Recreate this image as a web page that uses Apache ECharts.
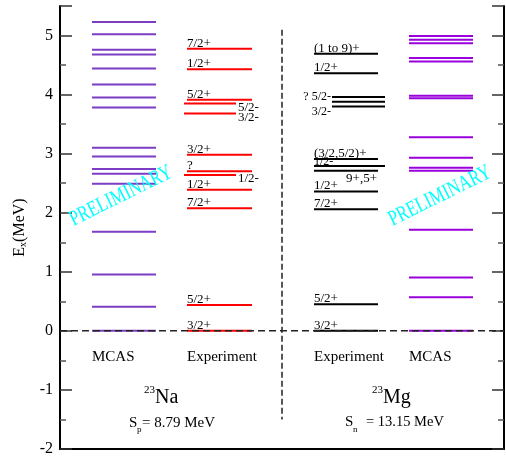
<!DOCTYPE html>
<html><head><meta charset="utf-8">
<script src="https://cdn.jsdelivr.net/npm/echarts@6/dist/echarts.min.js"></script>
<style>html,body{margin:0;padding:0;background:#fff}#c{width:506px;height:457px}</style>
</head><body><div id="c"></div>
<script>
// ---- data (MeV) ----
const mcasNa = [0, 0.41, 0.955, 1.68, 2.49, 2.66, 2.74, 2.95, 3.10, 3.78, 3.95, 4.17, 4.44, 4.68, 4.76, 5.02, 5.23];
const expNaE = [0, 0.440, 2.076, 2.391, 2.640, 2.704, 2.982, 3.678, 3.848, 3.914, 4.430, 4.775];
const expNaJ = ['3/2+', '5/2+', '7/2+', '1/2+', '1/2-', '?', '3/2+', '3/2-', '5/2-', '5/2+', '1/2+', '7/2+'];
const expNaK = ['a', 'a', 'a', 'a', 's', 'a', 'a', 's', 's', 'a', 'a', 'a'];
const expMgE = [0, 0.45, 2.06, 2.36, 2.71, 2.79, 2.91, 3.80, 3.88, 3.96, 4.36, 4.69];
const expMgJ = ['3/2+', '5/2+', '7/2+', '1/2+', '9+,5+', '1/2-', '(3/2,5/2)+', '3/2-', '? 5/2-', '', '1/2+', '(1 to 9)+'];
const expMgK = ['a', 'a', 'a', 'a', 'b', 'L', 'a', 'cu', 'ca', 'c', 'a', 'a'];
const mcasMg = [0, 0.57, 0.905, 1.71, 2.71, 2.76, 2.93, 3.28, 3.94, 3.98, 4.56, 4.62, 4.87, 4.93, 4.99];
const yTicks = [-2, -1, 0, 1, 2, 3, 4, 5];

// ---- layout (x axis units) ----
const SPAN = {
  mL: [32, 96], a: [127, 192], s: [124, 176],
  ma: [254, 318], mL2: [254, 325], mc: [272, 325], mR: [349, 413]
};
const FONT = '"Liberation Serif", "Times New Roman", serif';

function levelSeries(energies, labels, kinds, spanFn, color) {
  return {
    type: 'custom',
    coordinateSystem: 'cartesian2d',
    encode: { x: [0, 2], y: 1 },
    data: energies.map((e, i) => { const sp = spanFn(kinds ? kinds[i] : null); return [sp[0], e, sp[1]]; }),
    z: 3,
    renderItem: function (params, api) {
      const i = params.dataIndex;
      const e = api.value(1);
      const p0 = api.coord([api.value(0), e]);
      const p1 = api.coord([api.value(2), e]);
      const children = [{
        type: 'line',
        shape: { x1: p0[0], y1: p0[1], x2: p1[0], y2: p1[1] },
        style: { stroke: color, lineWidth: 2 }
      }];
      const lab = labels ? labels[i] : '';
      if (lab) {
        const k = kinds[i];
        let st = { text: lab, fill: '#000', fontSize: 13, fontFamily: FONT };
        if (k === 'a') { st.x = p0[0]; st.y = p0[1] + 1; st.align = 'left'; st.verticalAlign = 'bottom'; }
        else if (k === 'L') { st.x = p0[0]; st.y = p0[1] + 2; st.align = 'left'; st.verticalAlign = 'bottom'; st.fontSize = 12; }
        else if (k === 's') { st.x = p1[0] + 2; st.y = p1[1] + 4; st.align = 'left'; st.verticalAlign = 'middle'; }
        else if (k === 'b') { st.x = p1[0] - 1; st.y = p1[1] + 1; st.align = 'right'; st.verticalAlign = 'top'; }
        else if (k === 'cu') { st.x = p0[0] - 1; st.y = p0[1] - 1; st.align = 'right'; st.verticalAlign = 'top'; st.fontSize = 12; }
        else if (k === 'ca') { st.x = p0[0] - 1; st.y = p0[1] + 1; st.align = 'right'; st.verticalAlign = 'bottom'; st.fontSize = 12; }
        children.push({ type: 'text', style: st });
      }
      return { type: 'group', children: children };
    }
  };
}

const chart = echarts.init(document.getElementById('c'), null, { renderer: 'canvas' });
const axisCommon = {
  type: 'value', min: -2, max: 5.5, interval: 1,
  splitLine: { show: false },
  axisLine: { show: true, lineStyle: { color: '#000', width: 2 } },
  axisTick: { show: true, inside: true, length: 12, lineStyle: { color: '#333', width: 1.5 } },
  minorTick: { show: true, splitNumber: 2, length: 6, lineStyle: { color: '#555', width: 1.5 } }
};
chart.setOption({
  animation: false,
  backgroundColor: '#fff',
  grid: { left: 60, right: 2, top: 6, bottom: 7 },
  xAxis: {
    type: 'value', min: 0, max: 444,
    axisLine: { show: true, onZero: false, lineStyle: { color: '#000', width: 2 } },
    axisTick: { show: false }, axisLabel: { show: false }, splitLine: { show: false }
  },
  yAxis: [
    Object.assign({}, axisCommon, {
      position: 'left',
      name: '{a|E}{s|x}{a|(MeV)}',
      nameLocation: 'middle', nameGap: 32, nameRotate: 90,
      nameTextStyle: { rich: {
        a: { fontSize: 16, fontFamily: FONT, color: '#000' },
        s: { fontSize: 10, fontFamily: FONT, color: '#000', verticalAlign: 'bottom', padding: [6, 0, 0, 0] }
      } },
      axisLabel: { show: true, margin: 7, fontSize: 16, fontFamily: FONT, color: '#000', showMaxLabel: false,
        formatter: v => (yTicks.indexOf(v) >= 0 ? String(v) : '') }
    }),
    Object.assign({}, axisCommon, { position: 'right', axisLabel: { show: false } })
  ],
  series: [
    levelSeries(mcasNa, null, null, () => SPAN.mL, '#7d3cc4'),
    levelSeries(expNaE, expNaJ, expNaK, k => (k === 's' ? SPAN.s : SPAN.a), '#ff0000'),
    levelSeries(expMgE, expMgJ, expMgK, k => (k === 'L' ? SPAN.mL2 : (k && k[0] === 'c') ? SPAN.mc : SPAN.ma), '#000000'),
    levelSeries(mcasMg, null, null, () => SPAN.mR, '#9a00dd'),
    {
      type: 'custom', coordinateSystem: 'cartesian2d', z: 5,
      encode: { x: [0, 2], y: [1, 3] },
      data: [[0, 0, 444, 0, 7], [222, 5.1, 222, -1.5, 6]],
      renderItem: function (params, api) {
        const a = api.coord([api.value(0), api.value(1)]);
        const b = api.coord([api.value(2), api.value(3)]);
        return { type: 'line', shape: { x1: a[0], y1: a[1], x2: b[0], y2: b[1] },
          style: { stroke: '#222', lineWidth: 1.5, lineDash: [api.value(4), params.dataIndex === 0 ? 4 : 3] } };
      }
    }
  ],
  graphic: [
    { type: 'text', x: 92, y: 357, style: { text: 'MCAS', fontSize: 15, fontFamily: FONT, fill: '#000', verticalAlign: 'middle' } },
    { type: 'text', x: 187, y: 357, style: { text: 'Experiment', fontSize: 15, fontFamily: FONT, fill: '#000', verticalAlign: 'middle' } },
    { type: 'text', x: 314, y: 357, style: { text: 'Experiment', fontSize: 15, fontFamily: FONT, fill: '#000', verticalAlign: 'middle' } },
    { type: 'text', x: 409, y: 357, style: { text: 'MCAS', fontSize: 15, fontFamily: FONT, fill: '#000', verticalAlign: 'middle' } },
    { type: 'text', x: 155, y: 390, style: { text: '23', fontSize: 11, fontFamily: FONT, fill: '#000', align: 'right', verticalAlign: 'middle' } },
    { type: 'text', x: 155, y: 398, style: { text: 'Na', fontSize: 20, fontFamily: FONT, fill: '#000', verticalAlign: 'middle' } },
    { type: 'text', x: 383, y: 390, style: { text: '23', fontSize: 11, fontFamily: FONT, fill: '#000', align: 'right', verticalAlign: 'middle' } },
    { type: 'text', x: 383, y: 398, style: { text: 'Mg', fontSize: 20, fontFamily: FONT, fill: '#000', verticalAlign: 'middle' } },
    { type: 'text', x: 129, y: 423, style: { text: 'S', fontSize: 15, fontFamily: FONT, fill: '#000', verticalAlign: 'middle' } },
    { type: 'text', x: 137, y: 430, style: { text: 'p', fontSize: 9, fontFamily: FONT, fill: '#000', verticalAlign: 'middle' } },
    { type: 'text', x: 142, y: 423, style: { text: '= 8.79 MeV', fontSize: 15, fontFamily: FONT, fill: '#000', verticalAlign: 'middle' } },
    { type: 'text', x: 345, y: 422, style: { text: 'S', fontSize: 15, fontFamily: FONT, fill: '#000', verticalAlign: 'middle' } },
    { type: 'text', x: 353, y: 430, style: { text: 'n', fontSize: 9, fontFamily: FONT, fill: '#000', verticalAlign: 'middle' } },
    { type: 'text', x: 366, y: 422, style: { text: '= 13.15 MeV', fontSize: 14.5, fontFamily: FONT, fill: '#000', verticalAlign: 'middle' } },
    { type: 'text', x: 121, y: 196, rotation: 0.46, scaleX: 0.75, z: 10,
      style: { text: 'PRELIMINARY', fontSize: 22, fontFamily: FONT, fill: '#00ffff', align: 'center', verticalAlign: 'middle' } },
    { type: 'text', x: 440, y: 196, rotation: 0.46, scaleX: 0.75, z: 10,
      style: { text: 'PRELIMINARY', fontSize: 22, fontFamily: FONT, fill: '#00ffff', align: 'center', verticalAlign: 'middle' } }
  ]
});
</script></body></html>
